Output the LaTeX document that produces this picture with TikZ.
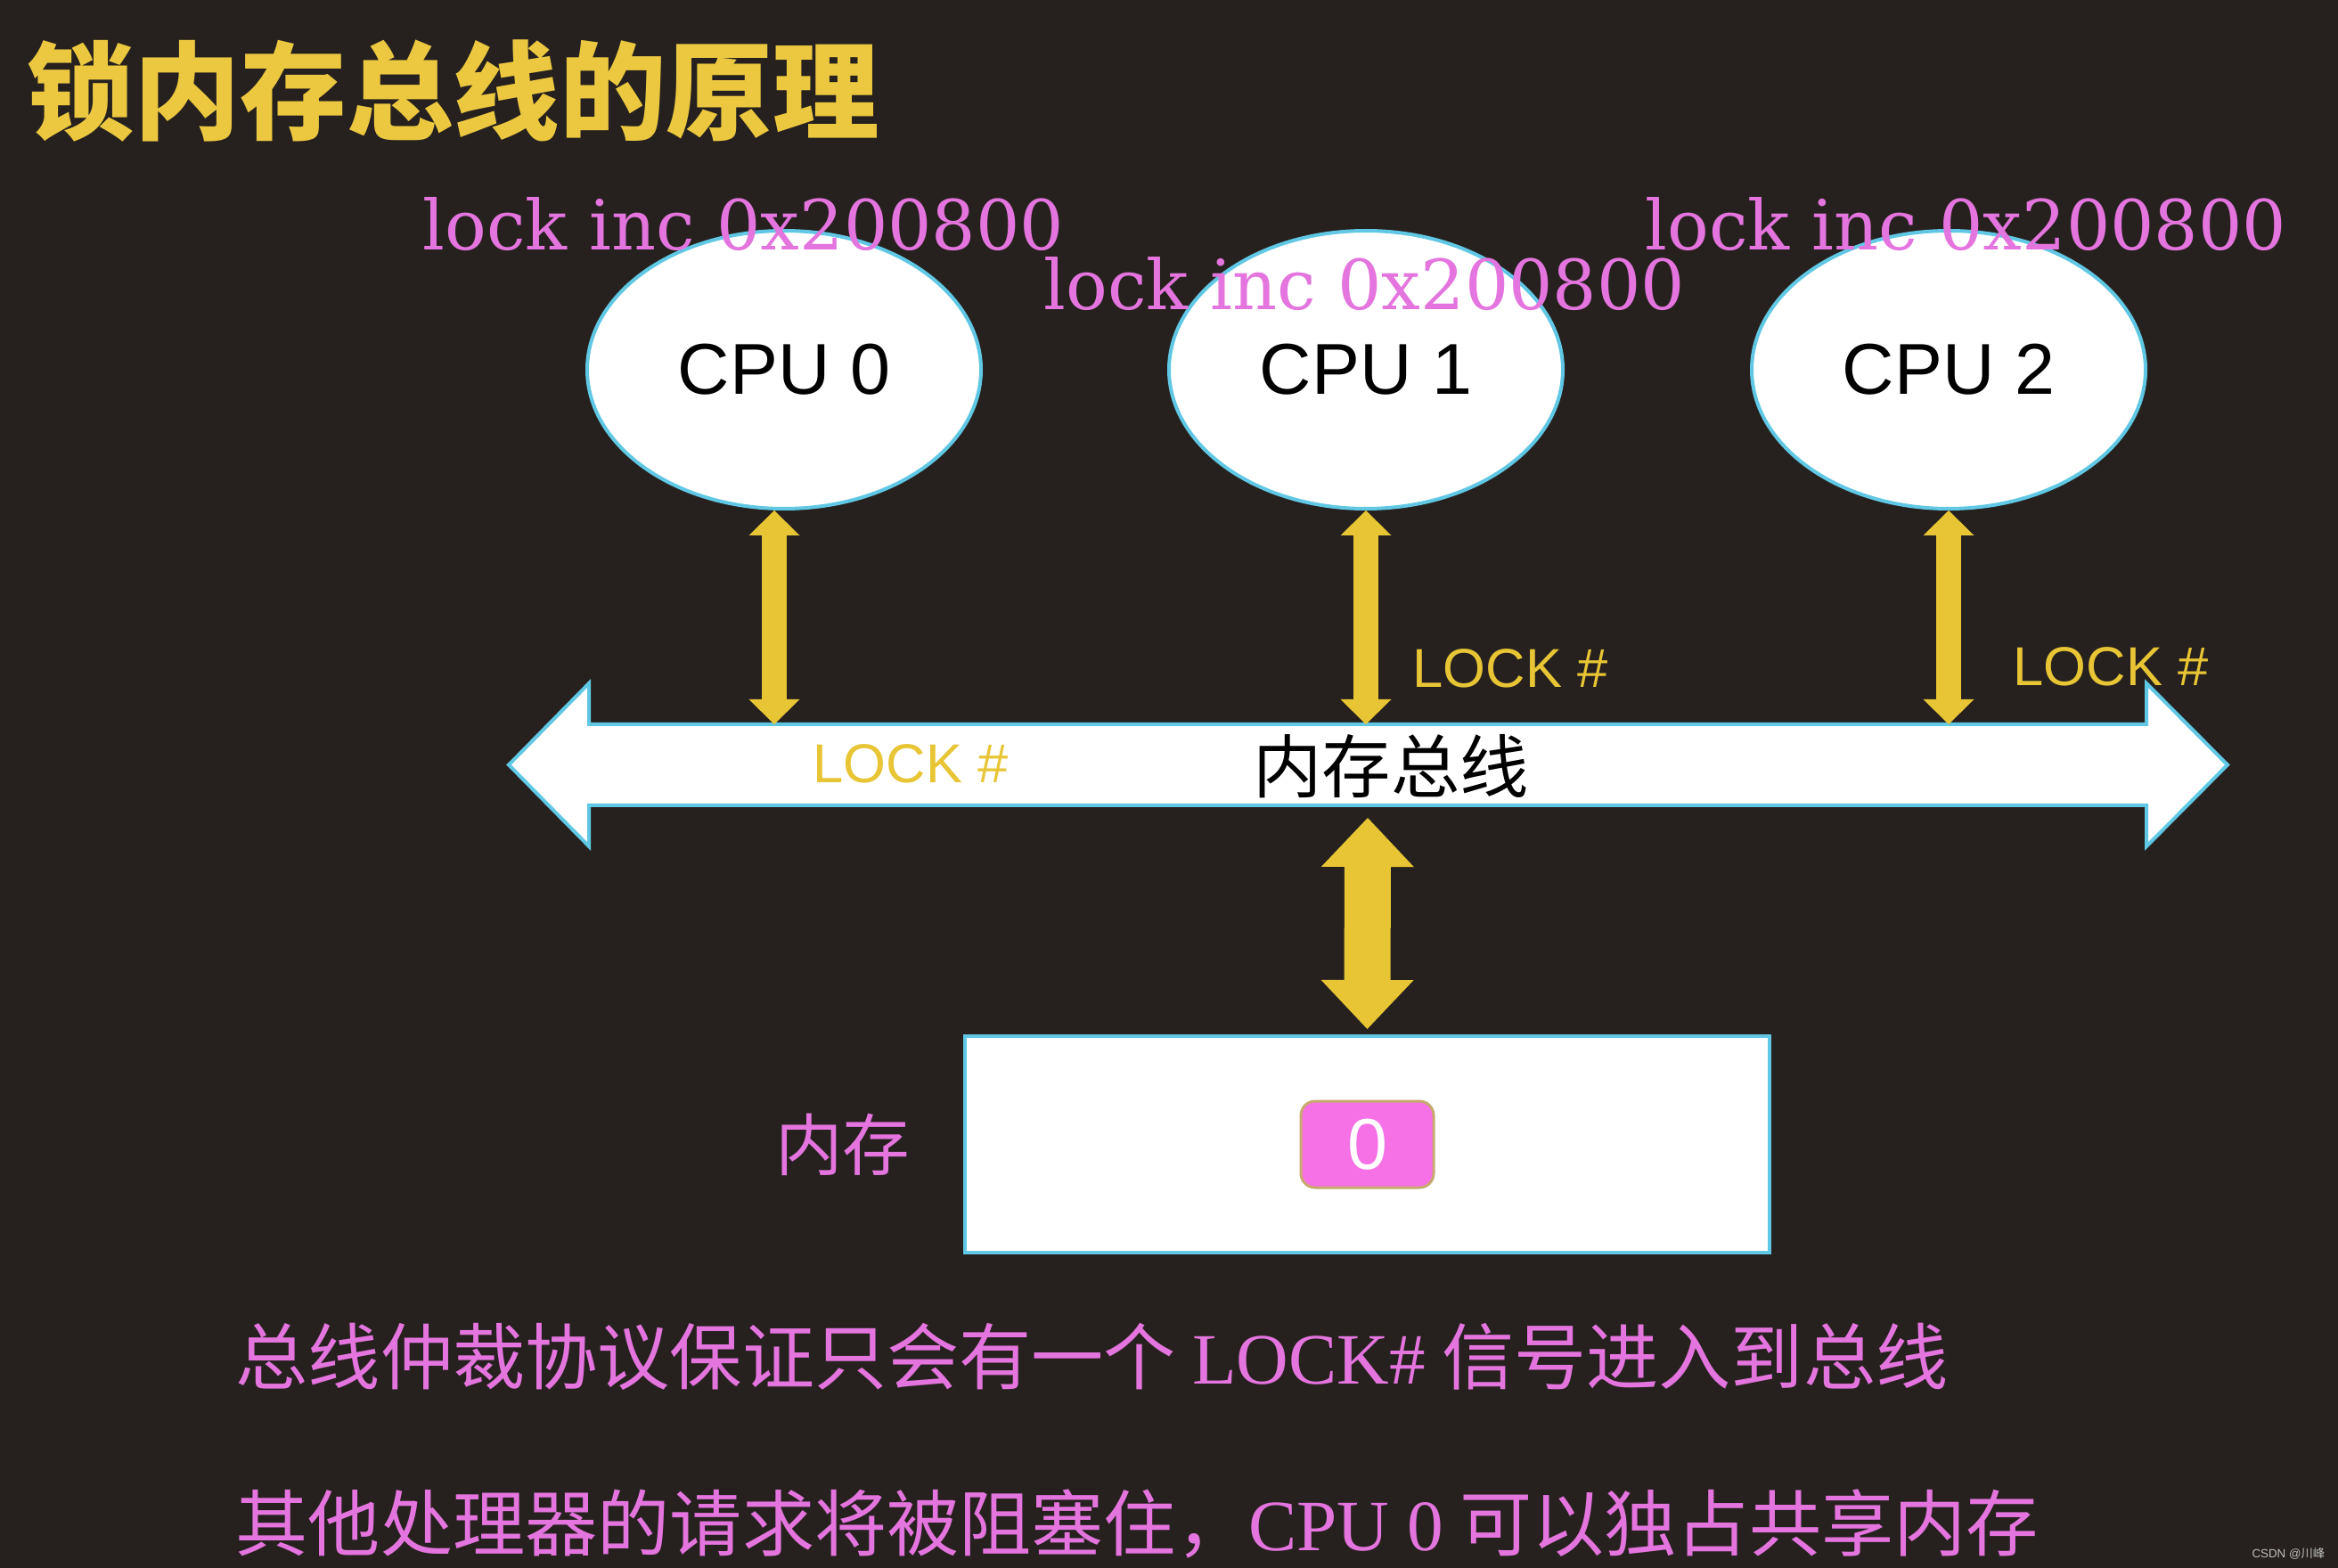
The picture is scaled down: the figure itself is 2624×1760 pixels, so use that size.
\documentclass[tikz,border=0pt]{standalone}
\usepackage{fontspec}
\usepackage{xcolor}
\usepackage{tikz}
\usetikzlibrary{arrows.meta,positioning,shapes.geometric,calc}
\newfontfamily\cjk{Noto Sans CJK SC}
\newfontfamily\sansfont{Liberation Sans}
\newfontfamily\asmfont{DejaVu Serif}
\newfontfamily\notelatin{Liberation Serif}
\definecolor{mBg}{RGB}{38,33,30}
\definecolor{mYellow}{RGB}{232,197,52}
\definecolor{mTitle}{RGB}{236,200,64}
\definecolor{mPink}{RGB}{228,116,222}
\definecolor{mCyan}{RGB}{96,200,228}
\definecolor{mCell}{RGB}{246,112,230}
\definecolor{mCellEdge}{RGB}{200,168,110}
\definecolor{mMark}{RGB}{190,190,190}
\tikzset{
titletext/.style={text=mTitle,inner sep=0pt,anchor=west,font=\cjk\bfseries\fontsize{34}{34}\selectfont},
cpunode/.style={ellipse,draw=mCyan,line width=0.4mm,fill=white,minimum width=44.2mm,minimum height=31.2mm,inner sep=0pt,font=\sansfont\fontsize{23}{23}\selectfont},
asmlabel/.style={text=mPink,inner sep=0pt,anchor=base west,font=\asmfont\fontsize{22.1}{22.1}\selectfont},
locklabel/.style={text=mYellow,inner sep=0pt,anchor=west,font=\sansfont\fontsize{17.5}{17.5}\selectfont},
buslabel/.style={text=black,inner sep=0pt,font=\cjk\fontsize{22}{22}\selectfont},
membox/.style={rectangle,draw=mCyan,line width=0.4mm,fill=white,minimum width=90.3mm,minimum height=24.3mm,inner sep=0pt},
cellbox/.style={rectangle,rounded corners=1.6mm,draw=mCellEdge,line width=0.3mm,fill=mCell,minimum width=14.9mm,minimum height=9.7mm,inner sep=0pt,text=white,font=\sansfont\fontsize{23}{23}\selectfont},
memlabel/.style={text=mPink,inner sep=0pt,font=\cjk\fontsize{21.5}{21.5}\selectfont},
notetext/.style={text=mPink,inner sep=0pt,anchor=west,font=\cjk\fontsize{23.1}{23.1}\selectfont},
sigarrow/.style={{Triangle[length=2.8mm,width=5.7mm,line width=0pt]}-{Triangle[length=2.8mm,width=5.7mm,line width=0pt]},line width=2.8mm,draw=mYellow},
busarrow/.style={{Triangle[length=5.5mm,width=10.4mm,line width=0pt]}-{Triangle[length=5.5mm,width=10.4mm,line width=0pt]},line width=5.2mm,draw=mYellow}
}
\begin{document}
\begin{tikzpicture}[x=0.1mm,y=-0.1mm]
\fill[mBg] (0,0) rectangle (2624,1760);
\node[titletext] (title) at (30,102) {锁内存总线的原理};
% processors
\node[cpunode] (cpu0) at (880,415) {CPU 0};
\node[cpunode] (cpu1) at (1533,415) {CPU 1};
\node[cpunode] (cpu2) at (2187,415) {CPU 2};
\node[asmlabel] (asm0) at (474,281) {lock inc 0x200800};
\node[asmlabel] (asm1) at (1171,348) {lock inc 0x200800};
\node[asmlabel] (asm2) at (1846,281) {lock inc 0x200800};
% memory bus
\path[draw=mCyan,line width=0.4mm,fill=white] (571,858.5) -- (661,767) -- (661,813) -- (2409,813) -- (2409,767)
  -- (2500,858.5) -- (2409,950) -- (2409,904) -- (661,904) -- (661,950) -- cycle;
\coordinate (busTop) at (1535,813);
\coordinate (busBot) at (1535,904);
\node[buslabel] (bus) at (1561,860) {内存总线};
\draw[sigarrow] ([xshift=-1.1mm]cpu0.south) -- ([xshift=-1.1mm]cpu0.south |- busTop);
\draw[sigarrow] (cpu1.south) -- (cpu1.south |- busTop);
\draw[sigarrow] (cpu2.south) -- (cpu2.south |- busTop);
\node[locklabel] (lock0) at (912,857) {LOCK \#};
\node[locklabel] (lock1) at (1585,750) {LOCK \#};
\node[locklabel] (lock2) at (2259,748) {LOCK \#};
% memory
\node[membox] (mem) at (1534.5,1284.5) {};
\node[cellbox] (cell) at (mem.center) {0};
\node[memlabel,left=5.9mm of mem] (memname) {内存};
\draw[busarrow,shorten <=1.4mm,shorten >=0.6mm] (busBot) -- (mem.north);
% notes
\node[notetext] (note1) at (264,1523) {总线仲裁协议保证只会有一个 {\notelatin LOCK\#} 信号进入到总线};
\node[notetext] (note2) at (264,1710) {其他处理器的请求将被阻塞住，{\notelatin CPU 0} 可以独占共享内存};
\node[text=mMark,inner sep=0pt,anchor=east,font=\sansfont\fontsize{3.8}{4}\selectfont] (mark) at (2610,1744) {CSDN @{\cjk 川峰}};
\end{tikzpicture}
\end{document}
